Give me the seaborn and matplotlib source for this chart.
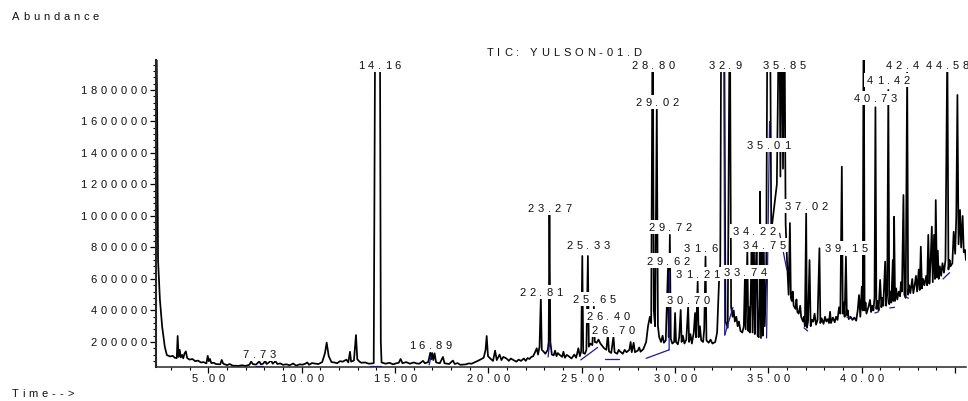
import matplotlib
matplotlib.use("Agg")
import matplotlib.pyplot as plt
import matplotlib.transforms as mtransforms
from matplotlib.patches import Rectangle
from matplotlib.ticker import MultipleLocator, FixedLocator
from matplotlib.font_manager import FontProperties, findfont
from matplotlib.ft2font import FT2Font
import pandas as pd
import seaborn as sns

sns.set_style("white")
plt.rcParams["font.family"] = ["Liberation Sans", "DejaVu Sans"]

# ---------------------------------------------------------------- data
# Total ion chromatogram: (retention time [min], abundance) vertices
trace_early = [
    (2.20, 2600000), (2.27, 1500000), (2.31, 720000), (2.41, 467000), (2.53, 297000),
    (2.67, 170000), (2.78, 117000), (2.95, 108000), (3.10, 112000), (3.20, 100000),
    (3.31, 97000), (3.36, 238000), (3.41, 105000), (3.47, 150000), (3.53, 102000),
    (3.60, 118000), (3.66, 96000), (3.73, 128000), (3.80, 140000), (3.87, 98000),
    (4.00, 88000), (4.15, 92000), (4.30, 78000), (4.45, 82000), (4.60, 70000),
    (4.75, 72000), (4.90, 64000), (4.97, 112000), (5.03, 78000), (5.09, 92000),
    (5.16, 66000), (5.30, 68000), (5.40, 60000), (5.64, 58000), (5.72, 86000),
    (5.80, 62000), (6.00, 53000), (6.15, 60000), (6.30, 50000), (6.60, 48000),
    (6.80, 52000), (7.00, 48000), (7.20, 55000), (7.30, 76000), (7.38, 60000),
    (7.55, 56000), (7.73, 76000), (7.82, 58000), (7.95, 63000), (8.05, 82000),
    (8.12, 60000), (8.25, 70000), (8.35, 85000), (8.45, 62000), (8.60, 78000),
    (8.70, 60000), (8.85, 64000), (9.00, 55000), (9.20, 58000), (9.35, 52000),
    (9.55, 63000), (9.70, 50000), (9.90, 58000), (10.05, 56000), (10.20, 62000),
    (10.30, 70000), (10.40, 55000), (10.55, 66000), (10.70, 63000), (10.90, 60000),
    (11.10, 72000), (11.25, 130000), (11.34, 196000), (11.45, 110000), (11.60, 72000),
    (11.75, 70000), (11.90, 65000), (12.05, 78000), (12.20, 75000), (12.40, 88000),
    (12.50, 70000), (12.59, 138000), (12.65, 75000), (12.80, 82000), (12.91, 244000),
    (12.98, 90000), (13.10, 75000), (13.20, 68000), (13.40, 70000), (13.60, 62000),
    (13.86, 65000), (13.95, 2600000), (14.16, 3000000), (14.20, 1900000),
    (14.24, 200000), (14.28, 70000),
]
trace_mid = [
    (14.40, 66000), (14.50, 62000), (14.70, 68000), (14.90, 58000), (15.05, 64000),
    (15.20, 68000), (15.30, 92000), (15.40, 65000), (15.60, 72000), (15.80, 62000),
    (16.00, 70000), (16.15, 64000), (16.30, 62000), (16.50, 80000), (16.60, 65000),
    (16.78, 72000), (16.89, 132000), (16.94, 90000), (16.99, 130000), (17.05, 85000),
    (17.12, 128000), (17.20, 70000), (17.40, 65000), (17.57, 105000), (17.65, 65000),
    (17.90, 60000), (18.10, 82000), (18.20, 60000), (18.35, 66000), (18.50, 55000),
    (18.80, 58000), (18.95, 64000), (19.10, 62000), (19.25, 70000), (19.40, 78000),
    (19.60, 90000), (19.75, 100000), (19.85, 150000), (19.91, 238000), (19.98, 110000),
    (20.10, 95000), (20.25, 80000), (20.36, 145000), (20.45, 85000), (20.60, 120000),
    (20.70, 85000), (20.80, 105000), (20.90, 100000), (21.00, 92000), (21.10, 80000),
    (21.20, 95000), (21.30, 88000), (21.50, 75000), (21.62, 88000), (21.75, 80000),
    (21.90, 95000), (22.00, 80000), (22.10, 98000), (22.20, 92000), (22.30, 105000),
    (22.40, 110000), (22.52, 140000), (22.59, 160000), (22.66, 120000), (22.74, 170000),
    (22.81, 479000), (22.86, 150000), (22.95, 140000), (23.05, 125000), (23.18, 150000),
    (23.23, 200000), (23.27, 1006000), (23.32, 200000), (23.40, 120000), (23.50, 115000),
    (23.57, 145000), (23.65, 110000), (23.72, 130000), (23.80, 120000), (23.95, 105000),
    (24.02, 138000), (24.10, 100000), (24.20, 118000), (24.30, 110000), (24.45, 95000),
    (24.60, 120000), (24.70, 100000), (24.82, 160000), (24.90, 110000), (24.97, 140000),
    (25.03, 746000), (25.08, 130000), (25.17, 125000), (25.25, 150000), (25.33, 746000),
    (25.38, 170000), (25.47, 190000), (25.57, 180000), (25.65, 424000), (25.70, 200000),
    (25.80, 195000), (25.90, 215000), (26.00, 190000), (26.10, 175000), (26.20, 160000),
    (26.32, 150000), (26.40, 250000), (26.46, 140000), (26.58, 130000), (26.70, 235000),
    (26.76, 135000), (26.90, 125000), (26.98, 150000), (27.05, 140000), (27.20, 125000),
    (27.30, 150000), (27.40, 135000), (27.55, 150000), (27.62, 200000), (27.68, 135000),
    (27.78, 195000), (27.85, 135000), (28.00, 145000), (28.08, 165000), (28.15, 138000),
    (28.30, 155000), (28.45, 200000), (28.55, 300000), (28.65, 360000), (28.72, 320000),
]
trace_main = [
    (28.80, 2500000), (28.86, 400000), (28.93, 300000), (29.02, 1700000), (29.08, 300000),
    (29.15, 230000), (29.25, 200000), (29.33, 240000), (29.40, 195000), (29.50, 210000),
    (29.62, 670000), (29.66, 230000), (29.72, 880000), (29.77, 220000), (29.85, 190000),
    (29.95, 200000), (30.00, 384000), (30.05, 200000), (30.15, 185000), (30.22, 230000),
    (30.30, 403000), (30.35, 200000), (30.42, 240000), (30.50, 190000), (30.60, 215000),
    (30.70, 424000), (30.75, 200000), (30.82, 250000), (30.90, 190000), (31.00, 260000),
    (31.07, 384000), (31.12, 230000), (31.21, 583000), (31.26, 230000), (31.33, 300000),
    (31.40, 210000), (31.50, 200000), (31.56, 280000), (31.63, 742000), (31.68, 210000),
    (31.80, 195000), (31.90, 215000), (32.00, 190000), (32.15, 200000), (32.25, 260000),
    (32.35, 575000), (32.42, 700000), (32.48, 2600000), (32.62, 2600000), (32.70, 330000),
    (32.82, 290000), (32.93, 2500000), (33.00, 420000), (33.08, 360000), (33.14, 400000),
    (33.20, 330000), (33.28, 360000), (33.35, 300000), (33.42, 330000), (33.50, 270000),
    (33.60, 260000), (33.68, 300000), (33.74, 615000), (33.78, 280000), (33.87, 784000),
    (33.92, 270000), (33.96, 420000), (34.00, 260000), (34.05, 500000), (34.10, 790000),
    (34.15, 260000), (34.19, 600000), (34.22, 850000), (34.27, 250000), (34.32, 650000),
    (34.37, 848000), (34.42, 240000), (34.48, 230000), (34.52, 500000), (34.55, 1154000),
    (34.60, 225000), (34.66, 911000), (34.70, 240000), (34.75, 800000), (34.80, 300000),
    (34.88, 600000), (34.95, 2500000), (35.01, 2600000), (35.08, 2500000), (35.15, 900000),
    (35.25, 1000000), (35.35, 1100000), (35.45, 1200000), (35.58, 2500000),
    (35.64, 1250000), (35.72, 2500000), (35.78, 1300000), (35.85, 2500000),
    (35.92, 950000), (36.00, 700000), (36.08, 500000), (36.15, 955000), (36.20, 480000),
]
trace_late = [
    (36.25, 460000), (36.30, 520000), (36.35, 430000), (36.45, 410000), (36.50, 470000),
    (36.55, 390000), (36.62, 380000), (36.70, 430000), (36.75, 360000), (36.85, 330000),
    (36.90, 360000), (36.95, 300000), (37.02, 1017000), (37.06, 290000), (37.12, 330000),
    (37.20, 720000), (37.26, 300000), (37.33, 340000), (37.40, 329000), (37.47, 380000),
    (37.55, 310000), (37.63, 340000), (37.73, 795000), (37.78, 320000), (37.85, 350000),
    (37.95, 315000), (38.03, 360000), (38.10, 330000), (38.18, 345000), (38.24, 320000),
    (38.30, 392000), (38.35, 320000), (38.45, 355000), (38.55, 325000), (38.62, 360000),
    (38.70, 340000), (38.78, 420000), (38.85, 380000), (38.93, 1313000), (38.98, 380000),
    (39.03, 450000), (39.08, 360000), (39.15, 742000), (39.20, 370000), (39.25, 400000),
    (39.30, 345000), (39.40, 360000), (39.50, 340000), (39.60, 355000), (39.70, 335000),
    (39.78, 400000), (39.85, 498000), (39.92, 360000), (40.00, 551000), (40.05, 400000),
    (40.10, 2500000), (40.15, 400000), (40.20, 450000), (40.25, 380000), (40.35, 420000),
    (40.44, 467000), (40.50, 390000), (40.56, 430000), (40.62, 400000), (40.68, 480000),
    (40.73, 1690000), (40.78, 410000), (40.84, 460000), (40.90, 400000), (40.98, 594000),
    (41.05, 420000), (41.10, 480000), (41.15, 430000), (41.25, 710000), (41.30, 430000),
    (41.36, 500000), (41.42, 1800000), (41.47, 440000), (41.52, 520000), (41.58, 450000),
    (41.66, 720000), (41.69, 460000), (41.73, 995000), (41.78, 460000), (41.84, 540000),
    (41.90, 470000), (41.98, 520000), (42.05, 490000), (42.10, 580000), (42.15, 520000),
    (42.23, 1133000), (42.28, 500000), (42.35, 480000), (42.43, 1930000), (42.48, 500000),
    (42.54, 560000), (42.60, 510000), (42.70, 600000), (42.76, 510000), (42.83, 560000),
    (42.90, 620000), (42.96, 520000), (43.05, 660000), (43.10, 530000), (43.16, 805000),
    (43.22, 540000), (43.28, 600000), (43.35, 560000), (43.45, 620000), (43.50, 560000),
    (43.56, 880000), (43.62, 570000), (43.68, 700000), (43.75, 932000), (43.80, 580000),
    (43.87, 880000), (43.92, 600000), (43.96, 1101000), (44.02, 610000), (44.07, 780000),
    (44.12, 600000), (44.18, 680000), (44.25, 620000), (44.32, 700000), (44.40, 640000),
    (44.48, 720000), (44.58, 2100000), (44.64, 660000), (44.70, 720000), (44.75, 680000),
    (44.85, 700000), (44.92, 900000), (45.00, 760000), (45.06, 1000000), (45.12, 1768000),
    (45.18, 820000), (45.26, 1038000), (45.32, 800000), (45.40, 1000000), (45.46, 770000),
    (45.53, 784000), (45.58, 720000), (45.62, 740000),
]

# Integration baselines (start time, start abundance, end time, end abundance)
integration_baselines = [
    (7.55, 50000, 7.92, 50000),
    (13.66, 47000, 14.27, 47000),
    (16.83, 55000, 16.93, 110000),
    (23.20, 105000, 23.29, 205000),
    (24.95, 86000, 25.85, 165000),
    (26.25, 92000, 27.00, 92000),
    (28.45, 96000, 29.68, 150000),
    (29.68, 150000, 29.70, 650000),
    (32.60, 2600000, 32.66, 244000),
    (32.66, 244000, 33.10, 420000),
    (34.90, 225000, 35.06, 1600000),
    (35.60, 890000, 35.98, 660000),
    (36.90, 290000, 37.10, 270000),
    (39.20, 358000, 39.40, 350000),
    (40.70, 384000, 40.90, 392000),
    (41.50, 416000, 41.75, 420000),
    (42.30, 488000, 42.50, 478000),
    (44.35, 600000, 44.70, 640000),
]

# Peak annotations: retention time, label height, characters left visible
peak_times = [7.73, 14.16, 16.89, 22.81, 23.27, 25.33, 25.65, 26.40, 26.70, 28.80,
              29.02, 29.62, 29.72, 30.70, 31.21, 31.63, 32.93, 33.74, 34.22, 34.75,
              35.01, 35.85, 37.02, 39.15, 40.73, 41.42, 42.43, 44.58]
label_heights = [124000, 1958000, 181000, 519000, 1050000, 816000, 470000, 365000,
                 276000, 1958000, 1725000, 717000, 930000, 467000, 632000, 795000,
                 1958000, 646000, 906000, 816000, 1448000, 1958000, 1065000, 795000,
                 1747000, 1863000, 1958000, 1958000]
visible_chars = [5, 5, 5, 5, 5, 5, 5, 5, 5, 5, 5, 5, 5, 5, 5, 4, 4, 5, 5, 5,
                 5, 5, 5, 5, 5, 5, 4, 5]

x_ticks = [5, 10, 15, 20, 25, 30, 35, 40, 45]
x_tick_labels = ["5.00", "10.00", "15.00", "20.00", "25.00", "30.00", "35.00", "40.00", ""]
y_ticks = [200000, 400000, 600000, 800000, 1000000, 1200000, 1400000, 1600000, 1800000]
y_tick_labels = ["200000", "400000", "600000", "800000", "1000000", "1200000",
                 "1400000", "1600000", "1800000"]

title_text = "TIC: YULSON-01.D"
y_title = "Abundance"
x_title = "Time-->"

# ---------------------------------------------------------------- figure
W, H, DPI = 968, 401, 100
fig = plt.figure(figsize=(W / DPI, H / DPI), dpi=DPI)
ax = fig.add_axes([156 / W, 1 - 366.7 / H, 810 / W, 306.7 / H])

trace = pd.DataFrame(trace_early + trace_mid + trace_main + trace_late,
                     columns=["time", "abundance"])
sns.lineplot(data=trace, x="time", y="abundance", sort=False, estimator=None,
             color="black", linewidth=1.25, ax=ax, zorder=2)

seg_rows = []
for i, (t0, a0, t1, a1) in enumerate(integration_baselines):
    seg_rows += [(i, t0, a0), (i, t1, a1)]
segs = pd.DataFrame(seg_rows, columns=["seg", "time", "abundance"])
sns.lineplot(data=segs, x="time", y="abundance", units="seg", estimator=None,
             sort=False, color="#1c1c94", linewidth=0.9, ax=ax, zorder=3)

ax.set_xlim(2.2, 45.58)
ax.set_ylim(43000, 1990000)
ax.set_xlabel("")
ax.set_ylabel("")
for side in ("top", "right"):
    ax.spines[side].set_visible(False)
ax.spines["left"].set_linewidth(1.5)
ax.spines["bottom"].set_linewidth(1.1)
ax.xaxis.set_major_locator(FixedLocator(x_ticks))
ax.xaxis.set_minor_locator(MultipleLocator(1))
ax.yaxis.set_major_locator(FixedLocator(y_ticks))
ax.yaxis.set_minor_locator(MultipleLocator(40000))
ax.tick_params(which="both", direction="out", labelbottom=False, labelleft=False,
               bottom=True, left=True, color="black")
ax.tick_params(which="major", length=4.0, width=0.9)
ax.tick_params(which="minor", length=2.4, width=0.8)

# ---------------------------------------------------------------- letter-spaced text
FONT = FontProperties(family="Liberation Sans", size=8)
TRACK = 2.8          # extra spacing between characters, points
CAP = 0.716 * FONT.get_size_in_points()
_ft = FT2Font(findfont(FONT))
_ft.set_size(FONT.get_size_in_points(), 72)
_adv_cache = {}


def advance(ch):
    if ch not in _adv_cache:
        try:
            _adv_cache[ch] = _ft.load_char(ord(ch)).linearHoriAdvance / 65536
        except Exception:
            _adv_cache[ch] = 0.556 * FONT.get_size_in_points()
    return _adv_cache[ch]


def text_width(s):
    return sum(advance(c) for c in s) + TRACK * max(len(s) - 1, 0)


def spaced_text(target, x, y, s, transform, ha="center", dx=0.0, dy=0.0,
                ref=None, box=False, zorder=5.0):
    """Draw s with wide tracking; ref sets the width used for alignment."""
    ref = s if ref is None else ref
    full = text_width(ref)
    start = {"center": -full / 2, "right": -full, "left": 0.0}[ha] + dx
    if box:
        pad_x, pad_y = 1.6, 2.2
        rect_tr = (mtransforms.Affine2D().scale(1 / 72.0) + fig.dpi_scale_trans
                   + mtransforms.ScaledTranslation(x, y, transform))
        rect = Rectangle((start - pad_x, dy - CAP / 2 - pad_y),
                         text_width(s) + 2 * pad_x, CAP + 2 * pad_y,
                         transform=rect_tr, facecolor="white", edgecolor="none",
                         zorder=zorder - 0.001, clip_on=False)
        target.add_artist(rect)
    pos = start
    for ch in s:
        target.text(x, y, ch, fontproperties=FONT, color="#111111",
                    ha="left", va="baseline", zorder=zorder, clip_on=False,
                    transform=mtransforms.offset_copy(transform, fig=fig, x=pos,
                                                      y=dy - CAP / 2, units="points"))
        pos += advance(ch) + TRACK


# tick labels
for t, lab in zip(x_ticks, x_tick_labels):
    if lab:
        spaced_text(ax, t, 0, lab, ax.get_xaxis_transform(), dy=-8.2)
for v, lab in zip(y_ticks, y_tick_labels):
    spaced_text(ax, 0, v, lab, ax.get_yaxis_transform(), ha="right", dx=-6.6)

# peak labels, later ones drawn over earlier ones
for i, (t, h, n) in enumerate(zip(peak_times, label_heights, visible_chars)):
    full = f"{t:.2f}"
    spaced_text(ax, t, h, full[:n], ax.transData, ref=full, box=True,
                zorder=6 + i * 0.01)

# titles
spaced_text(fig, 564 / W, 1 - 52 / H, title_text, fig.transFigure)
spaced_text(fig, 11.7 / W, 1 - 16.3 / H, y_title, fig.transFigure, ha="left")
spaced_text(fig, 11.7 / W, 1 - 393 / H, x_title, fig.transFigure, ha="left")

fig.savefig("out.png", dpi=DPI, facecolor="white")
